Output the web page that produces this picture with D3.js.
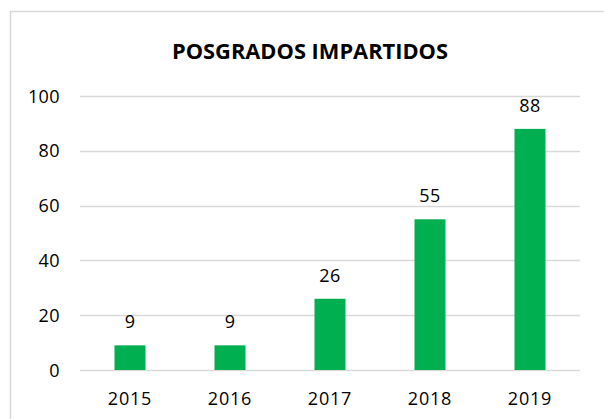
<!DOCTYPE html>
<html>
<head>
<meta charset="utf-8">
<script src="https://cdnjs.cloudflare.com/ajax/libs/d3/7.8.5/d3.min.js"></script>
<style>
  body { margin: 0; background: #fff; }
  svg { display: block; }
  text { font-family: "Open Sans", "Noto Sans", sans-serif; fill: #000; }
</style>
</head>
<body>
<svg id="chart"></svg>
<script>
// data
var years = ["2015", "2016", "2017", "2018", "2019"];
var posgrados = [9, 9, 26, 55, 88];
var yTicks = [0, 20, 40, 60, 80, 100];
var title = "POSGRADOS IMPARTIDOS";

var W = 604, H = 419;
var margin = { top: 96, right: 24, bottom: 49, left: 80 },
    width = W - margin.left - margin.right,
    height = H - margin.top - margin.bottom;

var svg = d3.select("#chart").attr("width", W).attr("height", H);

// outer frame
svg.append("rect")
    .attr("x", 10.5).attr("y", 11.5)
    .attr("width", 620).attr("height", 440)
    .attr("fill", "none")
    .attr("stroke", "#d9d9d9")
    .attr("stroke-width", 1.5);

svg.append("text")
    .attr("x", 310).attr("y", 59)
    .attr("text-anchor", "middle")
    .attr("font-size", "21px")
    .attr("font-weight", "bold")
    .attr("textLength", 276)
    .attr("lengthAdjust", "spacingAndGlyphs")
    .text(title);

var chart = svg.append("g")
    .attr("transform", "translate(" + margin.left + "," + margin.top + ")");

var x = d3.scaleBand().domain(years).range([0, width])
    .paddingInner(0.69).paddingOuter(0.345);
var y = d3.scaleLinear().domain([0, 100]).range([height, 0]);

// gridlines
chart.selectAll("line.grid")
    .data(yTicks)
    .enter().append("line")
    .attr("class", "grid")
    .attr("x1", 0).attr("x2", width)
    .attr("y1", function(d) { return Math.round(y(d)) + 0.5; })
    .attr("y2", function(d) { return Math.round(y(d)) + 0.5; })
    .attr("stroke", "#d9d9d9")
    .attr("stroke-width", 1.3);

// y labels
chart.selectAll("text.ytick")
    .data(yTicks)
    .enter().append("text")
    .attr("class", "ytick")
    .attr("x", -20)
    .attr("y", function(d) { return y(d) + 6.5; })
    .attr("text-anchor", "end")
    .attr("font-size", "18px")
    .attr("letter-spacing", "0.4px")
    .text(function(d) { return d; });

// bars
chart.selectAll("rect.bar")
    .data(posgrados)
    .enter().append("rect")
    .attr("class", "bar")
    .attr("x", function(d, i) { return x(years[i]); })
    .attr("y", function(d) { return y(d); })
    .attr("width", x.bandwidth())
    .attr("height", function(d) { return height - y(d); })
    .attr("fill", "#00b050");

// value labels
chart.selectAll("text.val")
    .data(posgrados)
    .enter().append("text")
    .attr("class", "val")
    .attr("x", function(d, i) { return x(years[i]) + x.bandwidth() / 2; })
    .attr("y", function(d) { return y(d) - 17; })
    .attr("text-anchor", "middle")
    .attr("font-size", "18px")
    .attr("letter-spacing", "0.4px")
    .text(function(d) { return d; });

// x labels
chart.selectAll("text.xtick")
    .data(years)
    .enter().append("text")
    .attr("class", "xtick")
    .attr("x", function(d) { return x(d) + x.bandwidth() / 2; })
    .attr("y", height + 35)
    .attr("text-anchor", "middle")
    .attr("font-size", "18px")
    .attr("letter-spacing", "0.8px")
    .text(function(d) { return d; });
</script>
</body>
</html>
